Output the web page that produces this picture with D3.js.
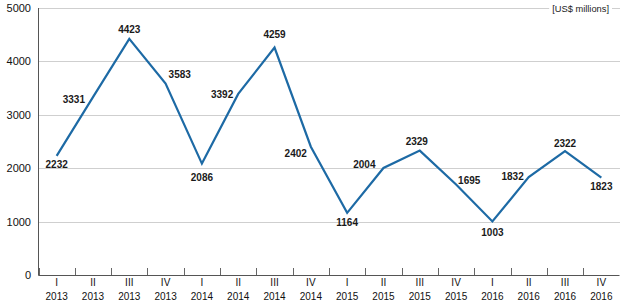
<!DOCTYPE html>
<html>
<head>
<meta charset="utf-8">
<script src="https://cdn.jsdelivr.net/npm/d3@7"></script>
<style>
  body { margin: 0; background: #fff; }
  svg { display: block; }
</style>
</head>
<body>
<script>
// data
var quarters = ["I", "II", "III", "IV", "I", "II", "III", "IV", "I", "II", "III", "IV", "I", "II", "III", "IV"]
var years = ["2013", "2013", "2013", "2013", "2014", "2014", "2014", "2014", "2015", "2015", "2015", "2015", "2016", "2016", "2016", "2016"]
var values = [2232, 3331, 4423, 3583, 2086, 3392, 4259, 2402, 1164, 2004, 2329, 1695, 1003, 1832, 2322, 1823]
var yTicks = [0, 1000, 2000, 3000, 4000, 5000]
var unitLabel = "[US$ millions]"

// where each value label sits relative to its point
var labelPlace = [
  ["middle", 0, 12], ["end", -8, 6], ["middle", 0, -6], ["start", 3, -6],
  ["middle", 0, 17], ["end", -5, 4], ["middle", 0, -10], ["end", -4, 10],
  ["middle", 0, 13], ["end", -8, 0], ["middle", -3, -6], ["start", 2, 0],
  ["middle", 0, 15], ["end", -5, 3], ["middle", 0, -4], ["middle", 0, 12]
]

var width = 620
var height = 304
var plot = {left: 38.5, right: 619.5, top: 8, bottom: 275}

var svg = d3.select("body").append("svg")
    .attr("width", width)
    .attr("height", height)

var idx = d3.range(values.length)
var x = d3.scaleBand().domain(idx).range([plot.left, plot.right])
var y = d3.scaleLinear().domain([0, 5000]).range([plot.bottom, plot.top])

// gridlines
svg.append("g").selectAll("line")
  .data(yTicks.filter(d => d > 0))
  .enter().append("line")
  .attr("x1", plot.left).attr("x2", width)
  .attr("y1", d => Math.round(y(d)) + 0.5)
  .attr("y2", d => Math.round(y(d)) + 0.5)
  .style("stroke", "#cfcfcf")
  .style("stroke-width", 1)

// unit label on top gridline
var unit = svg.append("text")
  .attr("x", 609)
  .attr("y", Math.round(y(5000)) + 4)
  .style("text-anchor", "end")
  .style("font-family", "Liberation Sans, Arial, sans-serif")
  .style("font-size", "9.3px")
  .style("fill", "#222")
  .text(unitLabel)
var bb = unit.node().getBBox()
svg.insert("rect", "text")
  .attr("x", bb.x - 3).attr("y", bb.y)
  .attr("width", bb.width + 6).attr("height", bb.height)
  .style("fill", "#fff")

// y axis labels
svg.append("g").selectAll("text")
  .data(yTicks)
  .enter().append("text")
  .attr("x", 31)
  .attr("y", d => y(d) + 4)
  .style("text-anchor", "end")
  .style("font-family", "Liberation Sans, Arial, sans-serif")
  .style("font-size", "11px")
  .style("fill", "#111")
  .text(d => d)

// axis lines
svg.append("line")
  .attr("x1", plot.left).attr("x2", plot.left)
  .attr("y1", Math.round(y(5000))).attr("y2", plot.bottom + 0.5)
  .style("stroke", "#555").style("stroke-width", 1)

svg.append("line")
  .attr("x1", plot.left).attr("x2", plot.right)
  .attr("y1", plot.bottom + 0.5).attr("y2", plot.bottom + 0.5)
  .style("stroke", "#555").style("stroke-width", 1)

// ticks between quarters
var bounds = idx.map(i => x(i)).concat([plot.right])
svg.append("g").selectAll("line")
  .data(bounds)
  .enter().append("line")
  .attr("x1", d => Math.round(d) + 0.5).attr("x2", d => Math.round(d) + 0.5)
  .attr("y1", plot.bottom - 7).attr("y2", plot.bottom)
  .style("stroke", "#666").style("stroke-width", 1)

// x labels (two lines)
var xl = svg.append("g").selectAll("text")
  .data(idx)
  .enter().append("text")
  .attr("x", i => x(i) + x.bandwidth() / 2)
  .attr("y", 286)
  .style("text-anchor", "middle")
  .style("font-family", "Liberation Sans Narrow, Arial Narrow, sans-serif")
  .style("font-size", "10px")
  .style("fill", "#111")
xl.append("tspan").text(i => quarters[i])
xl.append("tspan")
  .attr("x", i => x(i) + x.bandwidth() / 2)
  .attr("dy", 14)
  .text(i => years[i])

// the line
var line = d3.line()
  .x(i => x(i) + x.bandwidth() / 2)
  .y(i => y(values[i]))

svg.append("path")
  .datum(idx)
  .attr("d", line)
  .style("fill", "none")
  .style("stroke", "#1d6aa5")
  .style("stroke-width", 2.2)
  .style("stroke-linejoin", "miter")

// value labels
svg.append("g").selectAll("text")
  .data(idx)
  .enter().append("text")
  .attr("x", i => x(i) + x.bandwidth() / 2 + labelPlace[i][1])
  .attr("y", i => y(values[i]) + labelPlace[i][2])
  .style("text-anchor", i => labelPlace[i][0])
  .style("font-family", "Liberation Sans, Arial, sans-serif")
  .style("font-size", "10px")
  .style("font-weight", "bold")
  .style("fill", "#1a1a1a")
  .text(i => values[i])
</script>
</body>
</html>
